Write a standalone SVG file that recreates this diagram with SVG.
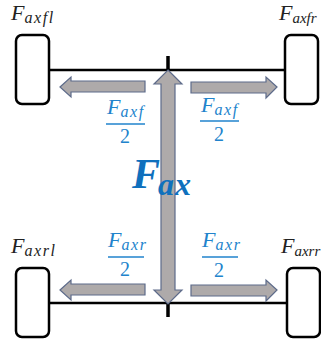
<svg xmlns="http://www.w3.org/2000/svg" width="321" height="343" viewBox="0 0 321 343">
<style>
.wheel{fill:#fff;stroke:#000;stroke-width:2.5}
.axle{stroke:#000;stroke-width:2.5;fill:none}
.arrow{fill:#aeaaaa;stroke:#5d6b8a;stroke-width:1.2}
.lab{font-family:"Liberation Serif","DejaVu Serif",serif;font-style:italic;fill:#222;font-size:22px}
.sub{font-size:16px;letter-spacing:1.6px}
.tight{font-size:15px;letter-spacing:0}
.blue{font-family:"Liberation Serif","DejaVu Serif",serif;font-style:italic;fill:#2183cc;font-size:22px}
.num{font-family:"Liberation Serif","DejaVu Serif",serif;font-size:20px;fill:#2183cc;text-anchor:middle}
.bar{stroke:#2183cc;stroke-width:1.5}
</style>
<g id="connectors">
<path class="axle" d="M49 70H285M49 303H287"/>
<path d="M168 56V70M168 303V317" stroke="#000" stroke-width="3.5" fill="none"/>
</g>
<g id="wheel-fl"><rect class="wheel" x="16" y="35" width="33" height="69" rx="6"/></g>
<g id="wheel-fr"><rect class="wheel" x="285" y="35" width="33" height="69" rx="6"/></g>
<g id="wheel-rl"><rect class="wheel" x="16" y="268" width="33" height="69" rx="6"/></g>
<g id="wheel-rr"><rect class="wheel" x="287" y="268" width="33" height="69" rx="6"/></g>
<g id="arrow-main"><path class="arrow" d="M168 70L182 84H175V290H182L168 304L154 290H161V84H154Z"/></g>
<g id="arrow-fl"><path class="arrow" d="M60 87L71 77V81H145V92H71V97Z"/></g>
<g id="arrow-fr"><path class="arrow" d="M277 87L266 77V82H191V93H266V98Z"/></g>
<g id="arrow-rl"><path class="arrow" d="M60 290L71 280V284H145V295H71V300Z"/></g>
<g id="arrow-rr"><path class="arrow" d="M277 290L266 280V285H191V296H266V301Z"/></g>
<g id="label-fl"><text class="lab" x="11" y="20">F<tspan class="sub" dy="3">axfl</tspan></text></g>
<g id="label-fr"><text class="lab" x="279" y="20">F<tspan class="sub tight" dy="3">axfr</tspan></text></g>
<g id="label-rl"><text class="lab" x="11" y="253">F<tspan class="sub" dy="3">axrl</tspan></text></g>
<g id="label-rr"><text class="lab" x="281" y="253">F<tspan class="sub tight" dy="3">axrr</tspan></text></g>
<g id="frac-fl"><text class="blue" x="107" y="114">F<tspan class="sub" dy="3">axf</tspan></text><path class="bar" d="M106 124H145"/><text class="num" x="125" y="143">2</text></g>
<g id="frac-fr"><text class="blue" x="201" y="112">F<tspan class="sub" dy="3">axf</tspan></text><path class="bar" d="M200 121H239"/><text class="num" x="219" y="141">2</text></g>
<g id="frac-rl"><text class="blue" x="108" y="247">F<tspan class="sub" dy="3">axr</tspan></text><path class="bar" d="M108 257H144"/><text class="num" x="125" y="276">2</text></g>
<g id="frac-rr"><text class="blue" x="202" y="247">F<tspan class="sub" dy="3">axr</tspan></text><path class="bar" d="M202 257H238"/><text class="num" x="219" y="277">2</text></g>
<g id="label-main"><text x="132" y="188" font-family="Liberation Serif,DejaVu Serif,serif" font-style="italic" font-size="42" font-weight="bold" fill="#0f70bd">F<tspan x="158" y="195" font-size="32" letter-spacing="1">ax</tspan></text></g>
</svg>
